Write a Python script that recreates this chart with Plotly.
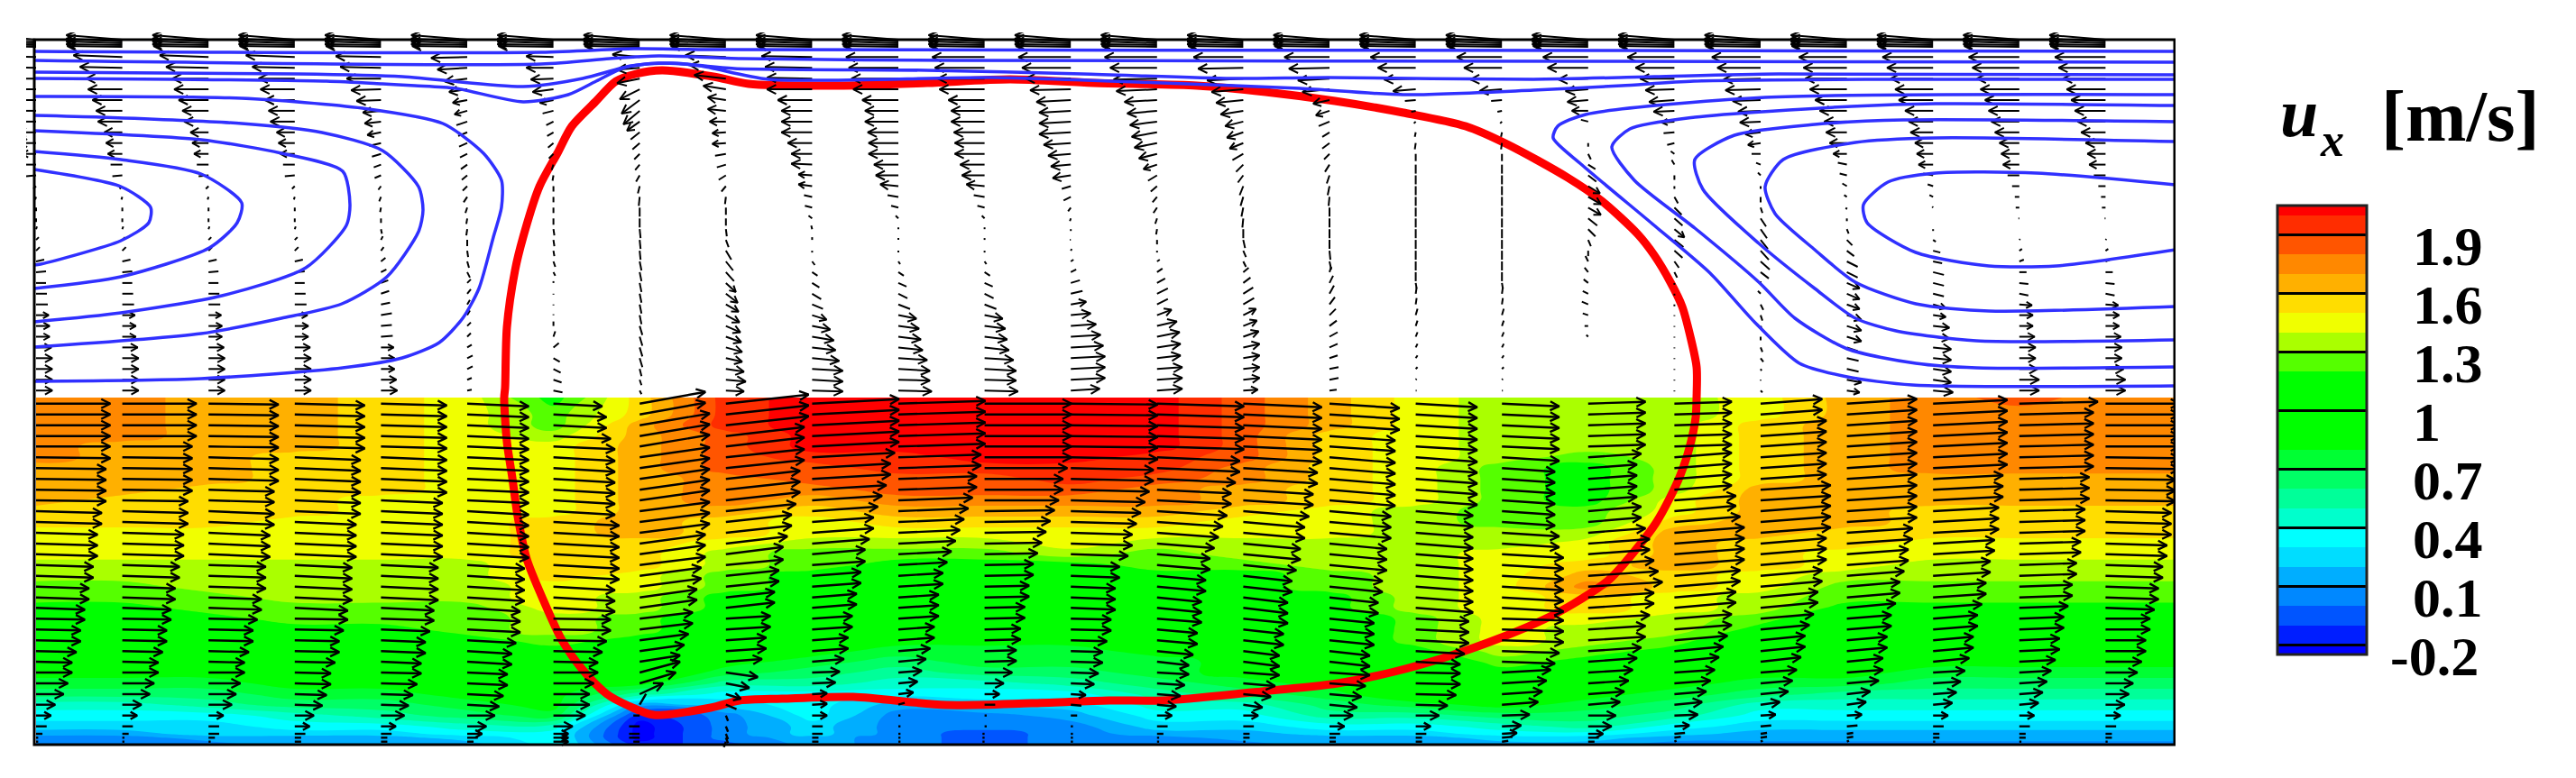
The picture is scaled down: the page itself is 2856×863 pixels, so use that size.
import plotly.graph_objects as go

# ---------- grid of the velocity field ----------
column_x = [40, 135.6, 231.2, 326.8, 422.4, 518, 613.6, 709.2, 804.8, 900.4, 996, 1091.6, 1187.2,
            1282.8, 1378.4, 1474, 1569.6, 1665.2, 1760.8, 1856.4, 1952, 2047.6, 2143.2, 2238.8, 2334.4]
edge_x = [2412]
liquid_rows = [447.7, 459.7, 471.7, 483.7, 495.3, 507.3, 519.3, 531.3, 543.3, 555, 567, 579, 591, 603,
               614.7, 626.7, 638.7, 650.7, 662.7, 674.3, 686.3, 698.3, 710.3, 722.3, 734, 746, 758,
               770, 781.7, 793.7, 805.7, 814, 818.3, 822.7]
wall_rows = [44, 46, 48, 50, 52]
gas_rows = [63.3, 75.2, 87.2, 99.1, 111, 122.9, 134.9, 146.8, 158.7, 170.7, 182.6, 194.5, 206.5, 218.4,
            230.3, 242.3, 254.2, 266.1, 278.1, 290, 301.9, 313.9, 325.8, 337.7, 349.6, 361.6, 373.5,
            385.4, 397.3, 409.3, 421.2, 433.2]
contour_top, contour_bottom = 441, 826

# ---------- ux in the liquid: lower edge of the colour band, in 0.1 m/s, one list per column ----------
ux_band_columns = [
 [17,17,17,17,17,17,16,16,16,16,15,15,14,14,14,13,13,12,12,11,11,10,10,9,8,8,7,6,4,3,2,1,0,0],
 [17,17,17,17,16,16,16,16,16,15,15,15,14,14,14,13,13,12,12,11,11,10,10,9,8,8,7,6,4,3,2,1,0,0],
 [16,16,16,16,16,16,16,16,15,15,15,15,14,14,14,13,13,13,12,12,11,10,10,9,8,8,7,6,5,3,2,2,1,0],
 [16,16,16,16,16,15,15,15,15,15,15,14,14,14,14,13,13,13,13,12,12,11,10,10,9,8,8,7,6,4,3,2,1,1],
 [15,15,15,15,15,15,15,15,15,14,14,14,14,14,14,13,13,13,13,12,12,11,10,10,9,9,8,7,6,5,3,2,1,1],
 [14,14,14,14,14,14,14,14,14,14,14,14,14,14,14,13,13,13,13,12,12,12,11,10,10,9,9,8,7,6,4,3,2,1],
 [11,12,12,13,14,14,14,14,14,14,14,15,15,15,15,15,15,14,14,14,13,13,12,11,10,10,9,8,8,7,4,3,3,3],
 [15,15,16,16,16,16,16,16,16,16,16,16,16,15,15,15,14,14,13,13,12,12,11,10,9,9,8,5,1,-2,-3,-3,-3,-2],
 [19,19,19,18,18,18,18,17,17,17,16,15,15,14,13,13,12,12,11,11,10,10,9,9,8,7,5,3,2,0,0,0,0,-1],
 [20,20,20,20,20,19,18,18,17,16,15,14,14,13,12,12,11,11,10,10,9,9,8,8,7,6,5,3,3,3,2,2,1,1],
 [20,20,20,20,20,19,19,18,18,17,16,15,14,13,12,11,10,10,9,9,9,8,8,7,6,5,4,3,1,0,0,0,0,0],
 [20,20,20,20,20,20,19,18,18,17,16,15,14,13,12,11,11,10,10,9,9,8,8,7,7,6,4,3,2,0,0,-1,-1,-1],
 [20,20,20,20,20,20,19,19,18,17,16,15,14,14,13,11,11,10,10,10,9,9,8,7,7,6,5,3,2,1,0,0,0,0],
 [20,20,20,20,20,19,19,18,17,17,16,15,14,13,12,12,11,11,10,10,10,9,9,8,7,7,6,5,4,3,2,1,0,0],
 [18,18,18,18,18,18,17,17,16,16,15,14,14,13,13,12,11,11,10,10,10,9,9,8,8,8,7,6,4,3,2,1,1,0],
 [16,16,16,15,15,15,15,15,15,15,14,14,14,13,13,13,12,12,11,11,10,10,10,9,9,9,8,7,6,5,3,2,1,1],
 [14,14,14,14,14,14,14,14,14,14,13,13,13,13,13,13,13,13,13,13,12,12,12,11,10,10,10,9,7,5,3,2,1,1],
 [13,13,13,13,13,13,12,12,12,12,12,12,13,13,14,14,14,14,14,14,14,14,14,13,12,11,10,9,8,6,4,3,2,1],
 [13,13,13,13,13,12,11,11,11,11,12,12,13,14,14,15,16,17,15,15,14,13,13,12,11,10,9,8,7,6,5,3,2,1],
 [13,13,13,13,13,13,13,13,13,14,14,15,16,16,16,16,15,15,14,14,13,13,12,11,10,9,8,7,6,5,3,2,1,0],
 [14,14,15,15,15,15,15,15,16,16,16,16,16,15,15,15,14,14,13,13,12,11,10,10,9,8,7,6,4,3,2,1,1,0],
 [16,16,16,16,16,16,16,16,16,16,16,16,15,15,14,14,13,12,12,11,10,10,9,9,8,8,7,5,4,3,2,1,1,0],
 [17,17,17,17,17,17,17,16,16,16,15,15,15,14,14,13,13,12,12,11,10,10,9,9,8,7,6,5,4,3,2,1,1,0],
 [18,17,17,17,17,17,17,16,16,16,15,15,15,14,14,13,13,12,12,11,10,10,9,9,8,7,6,5,4,3,2,1,1,0],
 [17,17,17,17,17,17,17,16,16,16,15,15,15,14,14,13,13,12,12,11,10,10,9,9,8,7,6,5,4,3,2,1,1,0],
 [17,17,17,17,17,17,17,16,16,16,15,15,15,14,14,13,13,12,12,11,10,10,9,9,8,7,6,5,4,3,2,1,1,0],
]
# arrow rise (px per arrow, up positive) per column, for seven groups of liquid rows
liquid_row_group = [0,0,0,0,0,1,1,1,1,1,2,2,2,2,2,3,3,3,3,3,4,4,4,4,4,5,5,5,5,6,6,6,6,6]
liquid_rise = [
 [0,-1,-2,-2,-1,0,0],[0,-1,-2,-2,-1,0,0],[-1,-2,-3,-2,-1,0,0],[-2,-3,-3,-3,-1,-1,0],[-2,-3,-3,-3,-2,-1,0],
 [-3,-3,-4,-4,-3,-2,0],[-3,-4,-4,-4,-1,0,0],[13,11,10,9,7,12,0],[10,9,8,6,3,-5,-6],[5,5,5,4,3,1,0],
 [3,3,3,3,3,2,0],[0,0,1,1,1,0,0],[-1,-2,-2,-2,-1,-1,0],[-3,-4,-5,-5,-4,-2,0],[-4,-5,-6,-6,-5,-3,0],
 [-5,-6,-6,-6,-5,-3,0],[-4,-5,-5,-5,-3,-1,0],[-3,-4,-4,-4,-2,3,1],[2,4,5,5,4,3,0],[2,5,6,6,5,3,1],
 [5,5,6,6,5,3,1],[5,5,5,5,4,3,1],[4,4,4,4,4,2,0],[2,2,2,2,2,2,0],[0,-1,-2,-2,0,0,0],
]

# ---------- gas velocity: arrow components in px, by column profile ----------
wall_u = [-62, -62, -62, -62, -61]
wall_v = [5, 3, 2, 1, 1]
gas_profiles = {
 'A': ([-54,-47,-40,-38,-33,-29,-27,-20,-18,-16,-13,-11,-3,-1,0,0,1,3,4,9,11,11,12,13,14,15,15,17,18,18,18,18],
       [2,1,0,0,0,0,0,0,0,0,0,-1,-3,-3,-4,-4,3,3,4,2,1,0,0,0,0,0,0,0,0,0,0,0]),
 'B': ([-50,-45,-38,-33,-27,-20,-18,-15,-13,-10,-8,-7,-3,-2,-1,0,1,2,3,5,6,8,9,10,12,12,13,14,15,15,17,18],
       [1,1,0,-1,-1,-2,-2,-3,-3,-3,-3,-3,-4,-5,-5,-5,-5,4,4,4,3,3,3,2,2,1,1,0,0,0,0,0]),
 'C': ([-40,-33,-25,-20,-16,-14,-12,-10,-9,-8,-7,-6,-5,-4,-2,-1,-1,0,1,2,3,4,4,3,3,4,4,5,6,6,5,5],
       [-1,-2,-3,-3,-3,-4,-4,-4,-4,-4,-5,-5,-5,-6,-6,-6,-7,-7,-7,-7,-6,4,5,5,5,4,4,3,3,3,2,1]),
 'D': ([-30,-30,-25,-23,-15,-12,-8,-7,-6,-5,-2,-1,0,0,0,0,1,1,1,2,2,0,0,0,0,0,2,6,7,8,9,10],
       [1,0,-1,-3,-3,-3,-4,-4,-5,-5,-6,-6,-6,-6,-6,-7,-7,-7,-6,-6,-4,2,-1,-1,1,5,6,5,-4,-4,-3,-2]),
 'E': ([-30,-25,-25,-22,-20,-18,-14,-10,-8,-6,-5,-4,-2,-1,0,0,1,1,1,2,2,2,2,2,2,3,3,3,3,2,2,2],
       [3,-2,-5,-11,-15,-15,-10,-8,-7,-6,-6,-7,-8,-10,-10,-10,-10,-10,-10,-10,-10,-10,-10,-10,-10,-10,-10,-10,-10,-8,-6,-4]),
 'F': ([-45,-40,-35,-25,-20,-20,-18,-15,-15,-12,-10,-8,-5,-1,0,0,1,3,6,8,9,11,13,14,15,16,17,18,18,20,22,20],
       [2,3,4,4,3,2,0,-1,-1,-2,-3,-5,-6,-8,-8,-8,-8,-8,-10,-10,-10,-10,-10,-8,-8,-7,-6,-5,-4,-3,-2,-1]),
 'G': ([-56,-52,-50,-50,-38,-34,-34,-34,-27,-23,-23,-15,-15,-9,-8,-4,-1,0,0,3,6,8,10,12,16,20,24,26,30,34,34,34],
       [1,1,1,0,0,0,0,0,0,0,1,1,2,2,2,3,4,3,-2,-4,-4,-5,-6,-5,-5,-4,-4,-3,-3,-2,-2,-1]),
 'H': ([-58,-55,-52,-50,-40,-37,-37,-34,-33,-33,-27,-25,-20,-12,-8,-3,0,0,0,2,6,9,10,13,20,23,25,27,32,35,35,37],
       [0,0,0,0,0,0,0,0,0,0,0,0,2,2,2,3,2,2,-2,-3,-4,-4,-5,-5,-4,-3,-3,-3,-2,-2,-1,-1]),
 'J': ([-58,-54,-50,-45,-38,-35,-35,-35,-30,-25,-22,-20,-10,-8,-3,-1,0,-1,1,3,6,10,13,17,22,28,33,36,38,38,38,32],
       [0,0,0,-1,-2,-2,-2,-2,-2,-2,-2,-3,-3,-4,-4,-3,-2,0,2,2,3,3,3,3,2,2,2,2,2,2,2,2]),
 'K': ([-58,-52,-48,-45,-36,-33,-30,-28,-25,-20,-15,-10,-7,-5,-4,-2,-1,0,0,3,6,9,12,12,16,22,25,26,26,28,28,28],
       [0,0,-1,-2,-2,-3,-4,-5,-5,-5,-5,-6,-6,-6,-6,-6,-6,-5,-2,2,4,5,6,6,6,5,5,4,3,2,2,2]),
 'L': ([-55,-50,-40,-35,-30,-25,-20,-18,-15,-12,-8,-6,-4,-3,-2,-1,0,2,3,3,6,8,11,12,14,15,17,18,18,18,18,16],
       [0,-1,-2,-3,-3,-4,-5,-6,-6,-7,-8,-8,-10,-10,-10,-10,-10,-9,-7,-6,5,6,7,7,7,6,6,4,3,2,2,1]),
 'M': ([-50,-45,-35,-30,-18,-15,-12,-8,-8,-6,-5,-3,-2,-1,0,0,0,0,1,2,2,4,5,6,7,8,9,9,9,10,10,8],
       [0,-1,-2,-3,-4,-5,-5,-5,-6,-6,-8,-9,-10,-10,-10,-10,-10,-10,-10,-9,6,8,9,8,7,6,5,4,3,2,2,1]),
 'N': ([-50,-42,-35,-25,-12,-5,-2,-1,-1,0,0,0,0,0,0,0,0,0,0,0,0,1,1,1,2,2,2,2,2,2,1,1],
       [0,0,-1,-2,-1,-1,-2,-5,-7,-8,-10,-10,-10,-10,-10,-10,-10,-10,-10,-10,-10,-6,7,7,7,6,5,4,3,2,1,0]),
 'P': ([-50,-45,-33,-25,-23,-18,-8,0,0,3,8,9,13,14,14,10,8,3,0,-3,-4,-5,-6,-7,-6,-4,-2,0,0,0,0,0],
       [0,0,-1,-2,-2,0,2,0,-4,-6,-5,-7,-8,-8,-8,-8,-8,-7,-6,6,5,4,3,3,2,0,2,0,0,0,0,0]),
 'Q': ([-52,-43,-38,-32,-28,-23,-14,-12,-8,-4,-3,0,0,4,8,9,11,10,9,5,3,0,0,0,0,0,0,0,0,0,0,0],
       [0,0,0,-1,-2,-1,-1,-1,-2,3,5,-5,-3,-7,-8,-8,-9,-8,-8,-7,-6,-2,-2,-2,-1,-1,-1,-1,-1,-1,-1,-1]),
 'R': ([-54,-48,-41,-39,-31,-25,-23,-17,-14,-10,-5,-3,0,0,2,6,7,8,9,10,9,0,-3,3,2,2,0,2,3,1,0,2],
       [0,0,-1,-1,-1,-1,-1,-2,-2,0,2,3,-3,-6,-6,-9,-10,-10,-10,-9,-7,2,3,-6,-6,-5,-4,-5,-4,-2,-1,-2]),
 'S': ([-53,-48,-46,-41,-35,-30,-25,-23,-19,-15,-10,-8,-5,-3,-1,0,2,6,8,12,12,14,14,14,16,16,16,12,13,13,16,14],
       [0,0,0,0,0,0,0,0,0,0,2,2,3,2,-2,-3,-5,-6,-6,-6,-6,-6,-6,-5,-5,-5,-5,-4,-3,-3,-3,-2]),
 'T': ([-56,-51,-47,-42,-38,-31,-27,-25,-20,-18,-16,-11,-6,-4,-1,0,0,3,8,10,12,12,12,14,14,18,18,20,20,20,20,22],
       [0,0,0,0,0,0,0,0,0,0,0,2,2,2,1,0,-2,-2,-2,-2,-3,-3,-3,-4,-2,-2,-2,-2,-2,-3,-3,-2]),
 'W': ([-56,-52,-47,-43,-38,-34,-31,-27,-22,-20,-18,-13,-8,-5,-4,-1,0,1,3,5,8,10,10,14,15,15,17,18,18,20,22,22],
       [0,0,0,0,0,0,0,0,0,0,0,0,0,0,0,0,0,1,2,2,0,-1,-2,-1,0,0,0,0,0,0,0,0]),
}
gas_column_profile = ['A','A','A','A','B','C','D','E','F','G','H','H','J','K','L','M','N','N','P','Q','R','S','T','W','W']

# ---------- bubble outline ----------
bubble_x = [734,791,830,929,1028,1120,1212,1327,1403,1480,1556,1625,1671,1738,1776,1816,1834,1852,1865,1874,1881,1881,
            1880,1873,1863,1851,1836,1819,1784,1744,1712,1665,1606,1546,1483,1388,1289,1230,1144,1049,946,867,820,788,
            725,697,673,646,623,603,584,574,568,562,559,560,562,571,580,598,618,634,660,683,705,734]
bubble_y = [78,85,93,95,92,88,92,95,102,112,125,140,160,197,223,260,283,313,340,373,407,441,
            463,497,527,553,580,603,643,670,687,707,728,745,758,768,777,777,780,782,773,775,777,785,
            793,783,770,743,710,667,620,573,530,490,441,430,363,300,263,207,170,140,113,90,82,78]

# ---------- streamlines ----------
streamlines = [
 ([38,600,703,784,1800,2412], [57,58,54,55,56,57]),
 ([38,600,676,730,822,1059,1800,2412], [67,71,65,62,65,67,68,69]),
 ([38,330,446,580,646,700,745,814,1028,1200,1365,1472,1700,1834,1972,2412], [80,82,85,96,87,73,70,76,78,82,87,86,88,85,82,83]),
 ([38,196,362,424,460,505,580,630,661,692,730,776,852,1100,1289,1441,1556,1700,1798,1878,2084,2412],
  [87,88,90,93,95,98,113,105,90,75,70,73,88,86,92,98,105,100,95,90,88,88]),
 ([38,268,402,491,536,556,556,547,531,513,487,446,380,223,38], [107,109,120,137,170,200,230,263,320,353,380,397,408,420,423]),
 ([38,112,268,357,424,464,469,464,429,379,312,223,38], [128,130,137,147,167,207,233,257,307,337,353,370,385]),
 ([38,223,312,380,388,384,339,246,134,38], [145,155,170,190,227,250,297,328,347,357]),
 ([38,134,223,268,263,232,134,38], [168,177,193,225,247,275,307,320]),
 ([38,134,167,165,134,45,38], [188,207,230,247,267,293,294]),
 ([2412,1957,1758,1727,1722,1754,1834,1896,1945,1995,2048,2120,2412], [105,108,127,140,153,183,250,303,357,403,418,427,428]),
 ([2412,2146,2053,1879,1807,1787,1812,1879,1950,1990,2048,2124,2191,2412], [117,115,118,130,143,163,200,253,313,353,387,403,408,407]),
 ([2412,2110,2012,1923,1879,1888,1950,2012,2057,2102,2191,2412], [135,133,138,150,177,210,270,320,353,367,378,377]),
 ([2412,2146,2057,1977,1957,1968,2012,2057,2124,2205,2412], [157,153,158,177,207,237,277,313,337,345,340]),
 ([2412,2258,2146,2093,2066,2070,2124,2205,2280,2412], [205,192,192,202,227,247,280,295,295,277]),
]

# ---------- colour bar ----------
band_colours = ['#0000FF','#001EFF','#0055FF','#0088FF','#00AEFF','#00DDFF','#00FFFF','#00FFCC','#00FF99','#00FF66',
                '#00FF33','#00FF00','#00FF00','#00FF00','#00FF00','#55FF00','#AAFF00','#F0FF00','#FFDD00','#FFB000',
                '#FF8800','#FF5500','#FF2D00','#FF0000']
tick_values = [1.9, 1.6, 1.3, 1, 0.7, 0.4, 0.1, -0.2]
tick_labels = ['1.9', '1.6', '1.3', '1', '0.7', '0.4', '0.1', '-0.2']
level_start, level_end, level_size = -0.2, 2.0, 0.1

# ---------- build ----------
PX0, PX1, PY0, PY1 = 29, 2412, 36, 830
BAR_TOP, BAR_BOTTOM, BAR_LEFT, BAR_W = 228, 726, 2525, 99
ARROW_PX_PER_MS = 47
SERIF = 'Liberation Serif'

def px(x):
    return (x - PX0) / (PX1 - PX0)

def py(y):
    return (PY1 - y) / (PY1 - PY0)

def add_arrow(xs, ys, x, y, dx, dy):
    xe, ye = x + dx, y - dy
    xs += [x, xe, None]
    ys += [y, ye, None]
    length = (dx * dx + dy * dy) ** 0.5
    if length < 14:
        return
    back = min(10, 0.45 * length)
    wide = min(5, 0.25 * length)
    ux, uy = dx / length, -dy / length
    xs += [xe - back * ux - wide * uy, xe, xe - back * ux + wide * uy, None]
    ys += [ye - back * uy + wide * ux, ye, ye - back * uy - wide * ux, None]

ux_columns = [[(b + 0.5) / 10 for b in col] for col in ux_band_columns]
z = [[ux_columns[c][r] for c in range(len(ux_columns))] for r in range(len(liquid_rows))]
contour_y = [contour_top] + liquid_rows[1:-1] + [contour_bottom]

liquid_xs, liquid_ys, gas_xs, gas_ys = [], [], [], []
for c, x in enumerate(column_x):
    for r, y in enumerate(liquid_rows):
        add_arrow(liquid_xs, liquid_ys, x, y, ARROW_PX_PER_MS * ux_columns[c][r], liquid_rise[c][liquid_row_group[r]])
    pu, pv = gas_profiles[gas_column_profile[c]]
    for y, u, v in zip(gas_rows, pu, pv):
        add_arrow(gas_xs, gas_ys, x, y, u, v)
    for y, u, v in zip(wall_rows, wall_u, wall_v):
        add_arrow(gas_xs, gas_ys, x, y, u, v)

n = len(band_colours)
zmin, zmax = level_start - level_size / 2, level_end + level_size / 2
colorscale = []
for i, col in enumerate(band_colours):
    lo = 0 if i == 0 else (level_start + (i - 1) * level_size - zmin) / (zmax - zmin)
    hi = 1 if i == n - 1 else (level_start + i * level_size - zmin) / (zmax - zmin)
    colorscale += [[lo, col], [hi, col]]

fig = go.Figure()
fig.add_trace(go.Contour(
    x=column_x + edge_x, y=contour_y, z=z, zmin=zmin, zmax=zmax, autocontour=False,
    colorscale=colorscale, line=dict(width=0, smoothing=1.3),
    contours=dict(coloring='fill', showlines=False, start=level_start, end=level_end, size=level_size),
    hoverinfo='skip',
    colorbar=dict(x=px(BAR_LEFT), xanchor='left', y=py(BAR_TOP), yanchor='top', lenmode='pixels',
                  len=BAR_BOTTOM - BAR_TOP, thicknessmode='pixels', thickness=BAR_W, xpad=0, ypad=0,
                  outlinecolor='#222222', outlinewidth=3, showticklabels=False, tickmode='array',
                  tickvals=tick_values, ticks='inside', ticklen=BAR_W, tickwidth=3, tickcolor='black'),
))
fig.add_trace(go.Scatter(x=bubble_x, y=bubble_y, mode='lines',
                         line=dict(color='#FF0000', width=9, shape='spline', smoothing=0.8),
                         hoverinfo='skip', showlegend=False))
fig.add_trace(go.Scatter(x=liquid_xs, y=liquid_ys, mode='lines', line=dict(color='black', width=2.4),
                         hoverinfo='skip', showlegend=False))
fig.add_trace(go.Scatter(x=gas_xs, y=gas_ys, mode='lines', line=dict(color='black', width=2),
                         hoverinfo='skip', showlegend=False))
for sx, sy in streamlines:
    fig.add_trace(go.Scatter(x=sx, y=sy, mode='lines', line=dict(color='#3030FF', width=3.5, shape='spline', smoothing=0.7),
                             hoverinfo='skip', showlegend=False))

annotations = []
for v, t in zip(tick_values, tick_labels):
    ty = BAR_BOTTOM - (v - zmin) / (zmax - zmin) * (BAR_BOTTOM - BAR_TOP) + 13
    annotations.append(dict(x=px(2648 if v < 0 else 2673), y=py(ty), xref='paper', yref='paper', xanchor='left',
                            yanchor='middle', showarrow=False, text=f'<b>{t}</b>',
                            font=dict(family=SERIF, size=62, color='black')))
annotations += [
    dict(x=px(2526), y=py(125), text='<b><i>u</i></b>', font=dict(family=SERIF, size=76, color='black')),
    dict(x=px(2570), y=py(155), text='<b><i>x</i></b>', font=dict(family=SERIF, size=52, color='black')),
    dict(x=px(2638), y=py(129), text='<b>[m/s]</b>', font=dict(family=SERIF, size=81, color='black')),
]
for a in annotations[-3:]:
    a.update(xref='paper', yref='paper', xanchor='left', yanchor='middle', showarrow=False)

fig.update_layout(
    width=2856, height=863, paper_bgcolor='white', plot_bgcolor='white', showlegend=False,
    margin=dict(l=PX0, r=2856 - PX1, t=PY0, b=863 - PY1, pad=0, autoexpand=False),
    xaxis=dict(range=[PX0, PX1], visible=False),
    yaxis=dict(range=[PY1, PY0], visible=False),
    annotations=annotations,
    shapes=[dict(type='rect', x0=38, x1=2411, y0=44, y1=826, xref='x', yref='y',
                 line=dict(color='black', width=3), fillcolor='rgba(0,0,0,0)')],
)
fig.write_html('out.html', post_script="document.body.style.margin='0';", config={'displayModeBar': False})
